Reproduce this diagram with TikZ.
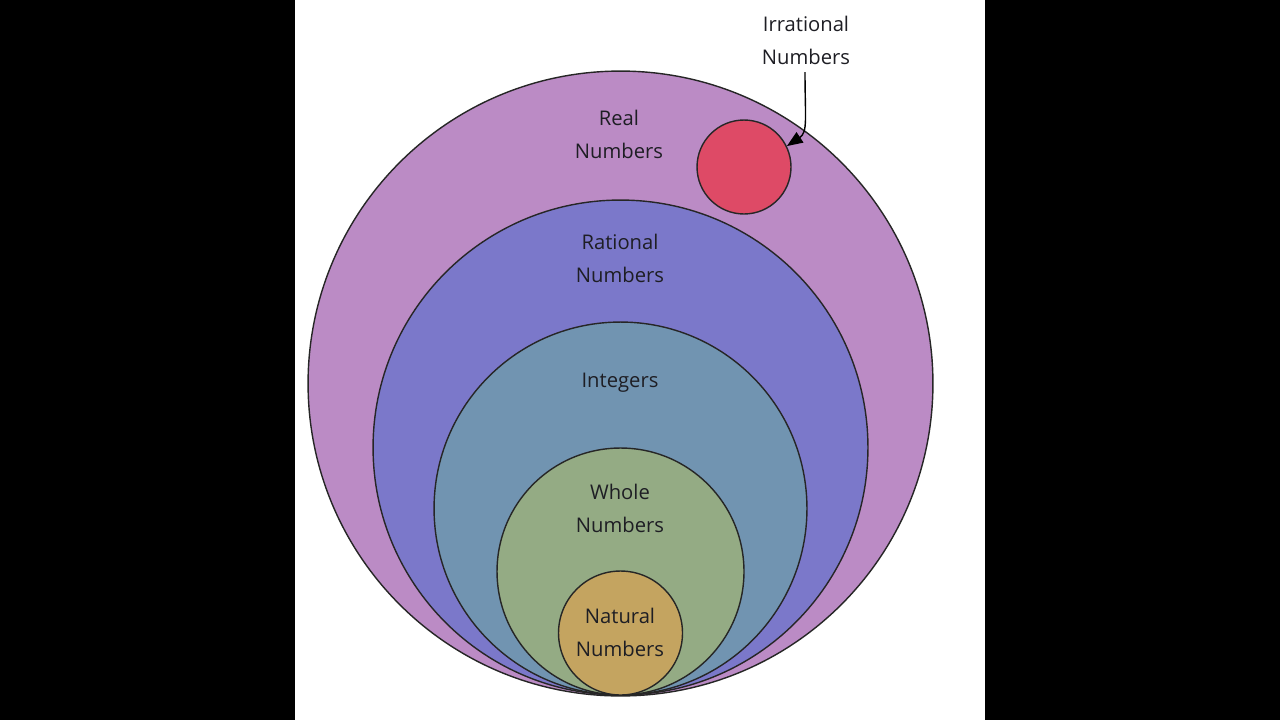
\documentclass[tikz,border=0pt]{standalone}
\usepackage{fontspec}
\setmainfont{Open Sans}
\usetikzlibrary{arrows.meta}
\definecolor{realc}{RGB}{187,139,197}
\definecolor{ratc}{RGB}{123,120,202}
\definecolor{intc}{RGB}{113,148,177}
\definecolor{wholec}{RGB}{148,171,132}
\definecolor{natc}{RGB}{196,164,96}
\definecolor{irrc}{RGB}{222,74,102}
\definecolor{txt}{RGB}{30,30,36}
\tikzset{
  setc/.style={circle, draw=black!85, line width=0.8pt, inner sep=0pt, minimum size=#1},
  lbl/.style={text=txt, align=center, font=\fontsize{11.5}{18.7}\selectfont, inner sep=0pt},
  pointer/.style={draw=black, line width=0.8pt, -{Triangle[length=9pt,width=7pt]}}
}
\begin{document}
\begin{tikzpicture}[x=0.02cm,y=-0.02cm]
\fill[black] (0,0) rectangle (1280,720);
\fill[white] (295,0) rectangle (985,720);
\useasboundingbox (0,0) rectangle (1280,720);
\node[setc=12.5cm, fill=realc] (real) at (620.5,383.5) {};
\node[setc=1.88cm, fill=irrc] (irr) at (744,167) {};
\node[setc=9.9cm, fill=ratc] (rat) at (620.5,447.5) {};
\node[setc=7.46cm, fill=intc] (int) at (620.5,508.5) {};
\node[setc=4.94cm, fill=wholec] (whole) at (620.5,571.5) {};
\node[setc=2.48cm, fill=natc] (nat) at (620.5,633) {};
\node[lbl] (lreal) at (619,134.5) {Real\\Numbers};
\node[lbl] (lrat) at (620,258.5) {Rational\\Numbers};
\node[lbl] (lint) at (620,383) {Integers};
\node[lbl] (lwhole) at (620,508.5) {Whole\\Numbers};
\node[lbl] (lnat) at (620,632.5) {Natural\\Numbers};
\node[lbl] (lirr) at (806,40.5) {Irrational\\Numbers};
\draw[pointer] (lirr.south) ++(-1,7) .. controls (805,118) and (808,132) .. (irr.26);
\end{tikzpicture}
\end{document}
